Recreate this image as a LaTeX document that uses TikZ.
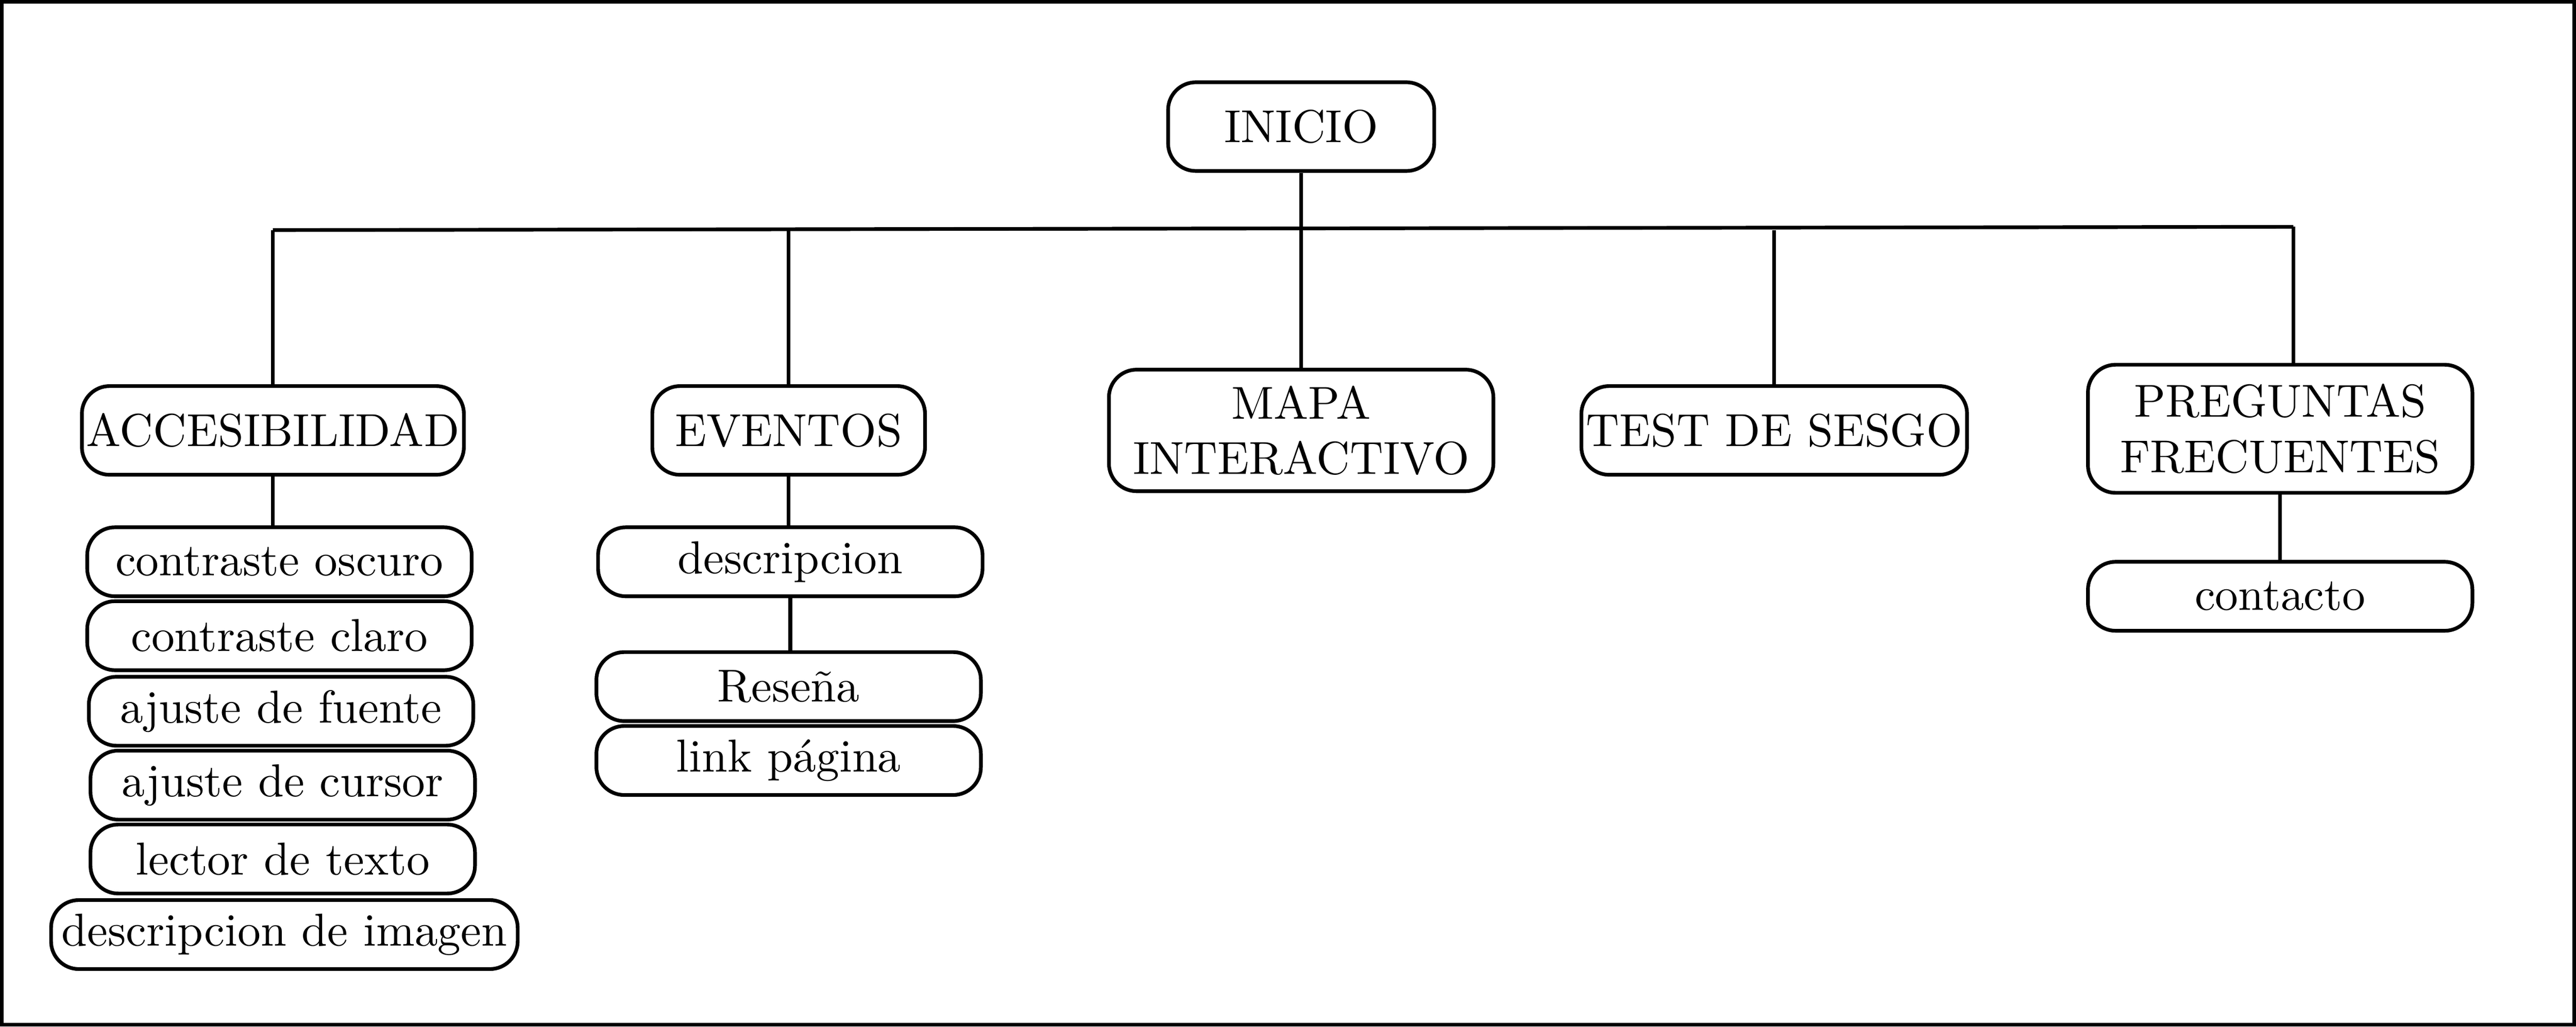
\documentclass[tikz,border=0pt]{standalone}
\usepackage{tikz}
\usetikzlibrary{positioning, calc}

\tikzset{
  box/.style={draw, thick, rounded corners=6pt, minimum height=54*0.125mm, align=center, inner sep=1pt},
  leaf/.style={box, minimum height=42*0.125mm},
  link/.style={thick}
}

\begin{document}
\begin{tikzpicture}[x=0.0125cm, y=-0.0125cm]

    % frame
    \draw[thick] (1,1) rectangle (1567,624);

    % main levels
    \node[box, minimum width=162*0.125mm] (inicio) at (792,77) {INICIO};
    \node[box, minimum width=218*0.125mm] (acc) at (166,262) {ACCESIBILIDAD};
    \node[box, minimum width=166*0.125mm] (eve) at (480,262) {EVENTOS};
    \node[box, minimum width=234*0.125mm, minimum height=74*0.125mm] (mapa) at (792,262) {MAPA\\INTERACTIVO};
    \node[box, minimum width=234*0.125mm] (test) at (1080,262) {TEST DE SESGO};
    \node[box, minimum width=234*0.125mm, minimum height=78*0.125mm] (preg) at (1388,261) {PREGUNTAS\\FRECUENTES};

    % accesibilidad
    \node[leaf, minimum width=234*0.125mm] (oscuro) at (170,342) {contraste oscuro};
    \node[leaf, minimum width=234*0.125mm] (claro) at (170,387) {contraste claro};
    \node[leaf, minimum width=234*0.125mm] (fuente) at (171,433) {ajuste de fuente};
    \node[leaf, minimum width=234*0.125mm] (cursor) at (172,478) {ajuste de cursor};
    \node[leaf, minimum width=234*0.125mm] (lector) at (172,523) {lector de texto};
    \node[leaf, minimum width=284*0.125mm] (imagen) at (173,569) {descripcion de imagen};

    % eventos
    \node[leaf, minimum width=234*0.125mm] (desc) at (481,342) {descripcion};
    \node[leaf, minimum width=234*0.125mm] (resena) at (480,418) {Reseña};
    \node[leaf, minimum width=234*0.125mm] (pagina) at (480,463) {link página};

    % preguntas
    \node[leaf, minimum width=234*0.125mm] (contacto) at (1388,363) {contacto};

    % bus
    \coordinate (busl) at (166,140);
    \coordinate (busr) at (1396,138);
    \draw[link] (busl) -- (busr);
    \draw[link] (inicio) -- (inicio |- busl);
    \draw[link] (busl) -- (acc);
    \draw[link] (eve |- busl) -- (eve);
    \draw[link] (mapa |- busl) -- (mapa);
    \draw[link] (test |- busl) -- (test);
    \draw[link] (busr) -- (preg.north -| busr);

    % children
    \draw[link] (acc) -- (acc |- oscuro.north);
    \draw[link] (eve) -- (eve |- desc.north);
    \draw[link] (desc) -- (desc |- resena.north);
    \draw[link] (preg) -- (contacto);

\end{tikzpicture}
\end{document}
